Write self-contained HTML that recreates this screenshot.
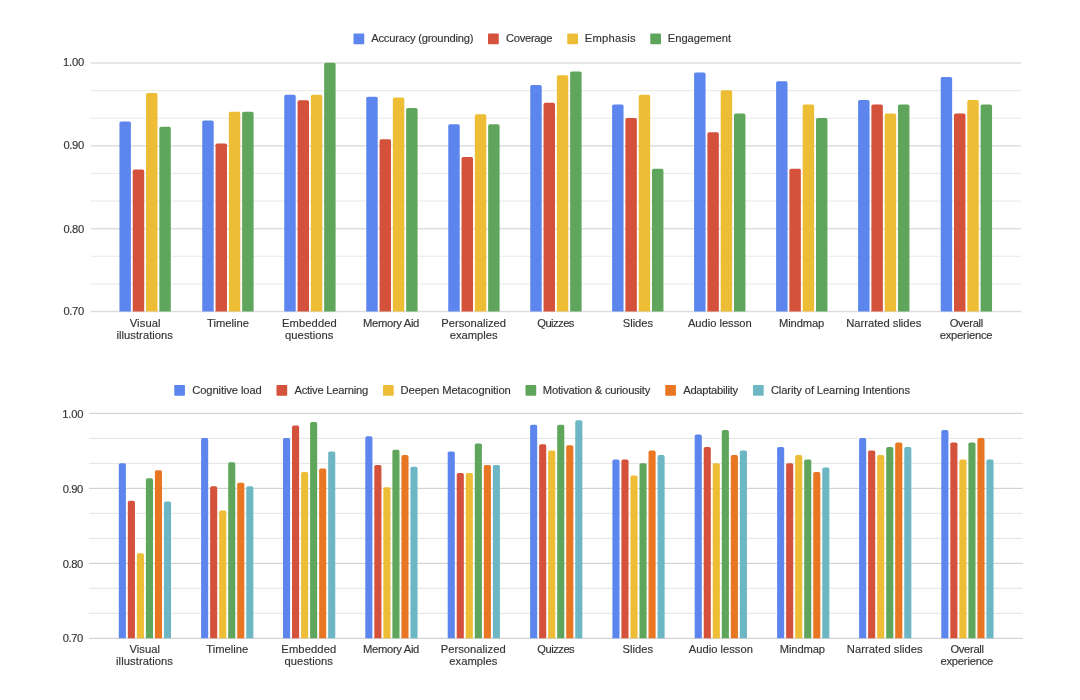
<!DOCTYPE html>
<html><head><meta charset="utf-8"><title>Charts</title>
<style>
html,body{margin:0;padding:0;background:#fff;}
svg{display:block;}
text{font-family:"Liberation Sans",sans-serif;font-size:11.2px;fill:#333;stroke:#333;stroke-width:0.15px;}
</style></head><body>
<svg width="1080" height="700" viewBox="0 0 1080 700">
<defs><filter id="soft" x="0" y="0" width="1080" height="700" filterUnits="userSpaceOnUse"><feGaussianBlur stdDeviation="0.5"/></filter></defs>
<rect width="1080" height="700" fill="#ffffff"/>
<g filter="url(#soft)">
<rect x="90.5" y="62.25" width="930.75" height="1.5" fill="#dedede"/>
<rect x="90.5" y="90.01" width="930.75" height="1.2" fill="#ececec"/>
<rect x="90.5" y="117.62" width="930.75" height="1.2" fill="#ececec"/>
<rect x="90.5" y="145.08" width="930.75" height="1.5" fill="#dedede"/>
<rect x="90.5" y="172.84" width="930.75" height="1.2" fill="#ececec"/>
<rect x="90.5" y="200.46" width="930.75" height="1.2" fill="#ececec"/>
<rect x="90.5" y="227.92" width="930.75" height="1.5" fill="#dedede"/>
<rect x="90.5" y="255.68" width="930.75" height="1.2" fill="#ececec"/>
<rect x="90.5" y="283.29" width="930.75" height="1.2" fill="#ececec"/>
<rect x="90.5" y="310.75" width="930.75" height="1.5" fill="#dedede"/>
<text x="63.02" y="66" textLength="21.25" lengthAdjust="spacing">1.00</text>
<text x="63.46" y="149" textLength="20.66" lengthAdjust="spacing">0.90</text>
<text x="63.46" y="233" textLength="20.66" lengthAdjust="spacing">0.80</text>
<text x="63.46" y="315" textLength="20.66" lengthAdjust="spacing">0.70</text>
<path d="M119.45 311.50V123.20Q119.45 121.50 121.15 121.50H129.20Q130.90 121.50 130.90 123.20V311.50Z" fill="#5b85ee"/>
<path d="M132.75 311.50V171.20Q132.75 169.50 134.45 169.50H142.50Q144.20 169.50 144.20 171.20V311.50Z" fill="#d4513b"/>
<path d="M146.05 311.50V94.70Q146.05 93.00 147.75 93.00H155.80Q157.50 93.00 157.50 94.70V311.50Z" fill="#edbe36"/>
<path d="M159.35 311.50V128.45Q159.35 126.75 161.05 126.75H169.10Q170.80 126.75 170.80 128.45V311.50Z" fill="#5fa65b"/>
<path d="M202.25 311.50V122.20Q202.25 120.50 203.95 120.50H212.00Q213.70 120.50 213.70 122.20V311.50Z" fill="#5b85ee"/>
<path d="M215.55 311.50V145.20Q215.55 143.50 217.25 143.50H225.30Q227.00 143.50 227.00 145.20V311.50Z" fill="#d4513b"/>
<path d="M228.85 311.50V113.45Q228.85 111.75 230.55 111.75H238.60Q240.30 111.75 240.30 113.45V311.50Z" fill="#edbe36"/>
<path d="M242.15 311.50V113.45Q242.15 111.75 243.85 111.75H251.90Q253.60 111.75 253.60 113.45V311.50Z" fill="#5fa65b"/>
<path d="M284.25 311.50V96.45Q284.25 94.75 285.95 94.75H294.00Q295.70 94.75 295.70 96.45V311.50Z" fill="#5b85ee"/>
<path d="M297.55 311.50V101.95Q297.55 100.25 299.25 100.25H307.30Q309.00 100.25 309.00 101.95V311.50Z" fill="#d4513b"/>
<path d="M310.85 311.50V96.45Q310.85 94.75 312.55 94.75H320.60Q322.30 94.75 322.30 96.45V311.50Z" fill="#edbe36"/>
<path d="M324.15 311.50V64.45Q324.15 62.75 325.85 62.75H333.90Q335.60 62.75 335.60 64.45V311.50Z" fill="#5fa65b"/>
<path d="M366.25 311.50V98.45Q366.25 96.75 367.95 96.75H376.00Q377.70 96.75 377.70 98.45V311.50Z" fill="#5b85ee"/>
<path d="M379.55 311.50V140.95Q379.55 139.25 381.25 139.25H389.30Q391.00 139.25 391.00 140.95V311.50Z" fill="#d4513b"/>
<path d="M392.85 311.50V99.20Q392.85 97.50 394.55 97.50H402.60Q404.30 97.50 404.30 99.20V311.50Z" fill="#edbe36"/>
<path d="M406.15 311.50V109.70Q406.15 108.00 407.85 108.00H415.90Q417.60 108.00 417.60 109.70V311.50Z" fill="#5fa65b"/>
<path d="M448.25 311.50V125.95Q448.25 124.25 449.95 124.25H458.00Q459.70 124.25 459.70 125.95V311.50Z" fill="#5b85ee"/>
<path d="M461.55 311.50V158.70Q461.55 157.00 463.25 157.00H471.30Q473.00 157.00 473.00 158.70V311.50Z" fill="#d4513b"/>
<path d="M474.85 311.50V115.95Q474.85 114.25 476.55 114.25H484.60Q486.30 114.25 486.30 115.95V311.50Z" fill="#edbe36"/>
<path d="M488.15 311.50V125.95Q488.15 124.25 489.85 124.25H497.90Q499.60 124.25 499.60 125.95V311.50Z" fill="#5fa65b"/>
<path d="M530.25 311.50V86.70Q530.25 85.00 531.95 85.00H540.00Q541.70 85.00 541.70 86.70V311.50Z" fill="#5b85ee"/>
<path d="M543.55 311.50V104.45Q543.55 102.75 545.25 102.75H553.30Q555.00 102.75 555.00 104.45V311.50Z" fill="#d4513b"/>
<path d="M556.85 311.50V76.95Q556.85 75.25 558.55 75.25H566.60Q568.30 75.25 568.30 76.95V311.50Z" fill="#edbe36"/>
<path d="M570.15 311.50V73.20Q570.15 71.50 571.85 71.50H579.90Q581.60 71.50 581.60 73.20V311.50Z" fill="#5fa65b"/>
<path d="M612.10 311.50V106.20Q612.10 104.50 613.80 104.50H621.85Q623.55 104.50 623.55 106.20V311.50Z" fill="#5b85ee"/>
<path d="M625.40 311.50V119.70Q625.40 118.00 627.10 118.00H635.15Q636.85 118.00 636.85 119.70V311.50Z" fill="#d4513b"/>
<path d="M638.70 311.50V96.45Q638.70 94.75 640.40 94.75H648.45Q650.15 94.75 650.15 96.45V311.50Z" fill="#edbe36"/>
<path d="M652.00 311.50V170.45Q652.00 168.75 653.70 168.75H661.75Q663.45 168.75 663.45 170.45V311.50Z" fill="#5fa65b"/>
<path d="M694.10 311.50V74.20Q694.10 72.50 695.80 72.50H703.85Q705.55 72.50 705.55 74.20V311.50Z" fill="#5b85ee"/>
<path d="M707.40 311.50V133.95Q707.40 132.25 709.10 132.25H717.15Q718.85 132.25 718.85 133.95V311.50Z" fill="#d4513b"/>
<path d="M720.70 311.50V91.95Q720.70 90.25 722.40 90.25H730.45Q732.15 90.25 732.15 91.95V311.50Z" fill="#edbe36"/>
<path d="M734.00 311.50V115.20Q734.00 113.50 735.70 113.50H743.75Q745.45 113.50 745.45 115.20V311.50Z" fill="#5fa65b"/>
<path d="M776.10 311.50V82.95Q776.10 81.25 777.80 81.25H785.85Q787.55 81.25 787.55 82.95V311.50Z" fill="#5b85ee"/>
<path d="M789.40 311.50V170.45Q789.40 168.75 791.10 168.75H799.15Q800.85 168.75 800.85 170.45V311.50Z" fill="#d4513b"/>
<path d="M802.70 311.50V106.20Q802.70 104.50 804.40 104.50H812.45Q814.15 104.50 814.15 106.20V311.50Z" fill="#edbe36"/>
<path d="M816.00 311.50V119.70Q816.00 118.00 817.70 118.00H825.75Q827.45 118.00 827.45 119.70V311.50Z" fill="#5fa65b"/>
<path d="M858.10 311.50V101.70Q858.10 100.00 859.80 100.00H867.85Q869.55 100.00 869.55 101.70V311.50Z" fill="#5b85ee"/>
<path d="M871.40 311.50V106.20Q871.40 104.50 873.10 104.50H881.15Q882.85 104.50 882.85 106.20V311.50Z" fill="#d4513b"/>
<path d="M884.70 311.50V115.20Q884.70 113.50 886.40 113.50H894.45Q896.15 113.50 896.15 115.20V311.50Z" fill="#edbe36"/>
<path d="M898.00 311.50V106.20Q898.00 104.50 899.70 104.50H907.75Q909.45 104.50 909.45 106.20V311.50Z" fill="#5fa65b"/>
<path d="M940.70 311.50V78.70Q940.70 77.00 942.40 77.00H950.45Q952.15 77.00 952.15 78.70V311.50Z" fill="#5b85ee"/>
<path d="M954.00 311.50V115.20Q954.00 113.50 955.70 113.50H963.75Q965.45 113.50 965.45 115.20V311.50Z" fill="#d4513b"/>
<path d="M967.30 311.50V101.70Q967.30 100.00 969.00 100.00H977.05Q978.75 100.00 978.75 101.70V311.50Z" fill="#edbe36"/>
<path d="M980.60 311.50V106.20Q980.60 104.50 982.30 104.50H990.35Q992.05 104.50 992.05 106.20V311.50Z" fill="#5fa65b"/>
<text x="129.70" y="327" textLength="30.90" lengthAdjust="spacing">Visual</text>
<text x="116.53" y="339" textLength="56.39" lengthAdjust="spacing">illustrations</text>
<text x="206.98" y="327" textLength="41.99" lengthAdjust="spacing">Timeline</text>
<text x="282.05" y="327" textLength="54.69" lengthAdjust="spacing">Embedded</text>
<text x="285.00" y="339" textLength="48.44" lengthAdjust="spacing">questions</text>
<text x="363.05" y="327" textLength="56.28" lengthAdjust="spacing">Memory Aid</text>
<text x="441.30" y="327" textLength="64.61" lengthAdjust="spacing">Personalized</text>
<text x="449.75" y="339" textLength="47.88" lengthAdjust="spacing">examples</text>
<text x="537.25" y="327" textLength="37.16" lengthAdjust="spacing">Quizzes</text>
<text x="622.75" y="327" textLength="30.36" lengthAdjust="spacing">Slides</text>
<text x="687.95" y="327" textLength="63.69" lengthAdjust="spacing">Audio lesson</text>
<text x="779.05" y="327" textLength="45.29" lengthAdjust="spacing">Mindmap</text>
<text x="846.30" y="327" textLength="75.06" lengthAdjust="spacing">Narrated slides</text>
<text x="949.75" y="327" textLength="33.46" lengthAdjust="spacing">Overall</text>
<text x="939.75" y="339" textLength="52.75" lengthAdjust="spacing">experience</text>
<rect x="353.5" y="33.5" width="10.75" height="10.75" rx="0.8" fill="#5b85ee"/>
<text x="371.20" y="42" textLength="102.23" lengthAdjust="spacing">Accuracy (grounding)</text>
<rect x="488" y="33.5" width="10.75" height="10.75" rx="0.8" fill="#d4513b"/>
<text x="505.89" y="42" textLength="46.57" lengthAdjust="spacing">Coverage</text>
<rect x="567.25" y="33.5" width="10.75" height="10.75" rx="0.8" fill="#edbe36"/>
<text x="584.80" y="42" textLength="50.78" lengthAdjust="spacing">Emphasis</text>
<rect x="650.25" y="33.5" width="10.75" height="10.75" rx="0.8" fill="#5fa65b"/>
<text x="667.80" y="42" textLength="63.19" lengthAdjust="spacing">Engagement</text>
<rect x="89.0" y="412.80" width="933.75" height="1.1" fill="#cfcfcf"/>
<rect x="89.0" y="437.85" width="933.75" height="1.0" fill="#e3e3e3"/>
<rect x="89.0" y="462.85" width="933.75" height="1.0" fill="#e3e3e3"/>
<rect x="89.0" y="487.80" width="933.75" height="1.1" fill="#cfcfcf"/>
<rect x="89.0" y="512.85" width="933.75" height="1.0" fill="#e3e3e3"/>
<rect x="89.0" y="537.85" width="933.75" height="1.0" fill="#e3e3e3"/>
<rect x="89.0" y="562.80" width="933.75" height="1.1" fill="#cfcfcf"/>
<rect x="89.0" y="587.85" width="933.75" height="1.0" fill="#e3e3e3"/>
<rect x="89.0" y="612.85" width="933.75" height="1.0" fill="#e3e3e3"/>
<rect x="89.0" y="637.80" width="933.75" height="1.1" fill="#cfcfcf"/>
<text x="62.22" y="418" textLength="21.25" lengthAdjust="spacing">1.00</text>
<text x="62.66" y="493" textLength="20.66" lengthAdjust="spacing">0.90</text>
<text x="62.66" y="568" textLength="20.66" lengthAdjust="spacing">0.80</text>
<text x="62.66" y="642" textLength="20.66" lengthAdjust="spacing">0.70</text>
<path d="M118.80 638.35V464.95Q118.80 463.25 120.50 463.25H124.20Q125.90 463.25 125.90 464.95V638.35Z" fill="#5b85ee"/>
<path d="M127.83 638.35V502.45Q127.83 500.75 129.53 500.75H133.23Q134.93 500.75 134.93 502.45V638.35Z" fill="#d4513b"/>
<path d="M136.86 638.35V554.95Q136.86 553.25 138.56 553.25H142.26Q143.96 553.25 143.96 554.95V638.35Z" fill="#edbe36"/>
<path d="M145.89 638.35V479.95Q145.89 478.25 147.59 478.25H151.29Q152.99 478.25 152.99 479.95V638.35Z" fill="#5fa65b"/>
<path d="M154.92 638.35V471.95Q154.92 470.25 156.62 470.25H160.32Q162.02 470.25 162.02 471.95V638.35Z" fill="#e87622"/>
<path d="M163.95 638.35V503.20Q163.95 501.50 165.65 501.50H169.35Q171.05 501.50 171.05 503.20V638.35Z" fill="#6db7c4"/>
<path d="M201.10 638.35V439.70Q201.10 438.00 202.80 438.00H206.50Q208.20 438.00 208.20 439.70V638.35Z" fill="#5b85ee"/>
<path d="M210.13 638.35V487.95Q210.13 486.25 211.83 486.25H215.53Q217.23 486.25 217.23 487.95V638.35Z" fill="#d4513b"/>
<path d="M219.16 638.35V512.20Q219.16 510.50 220.86 510.50H224.56Q226.26 510.50 226.26 512.20V638.35Z" fill="#edbe36"/>
<path d="M228.19 638.35V463.95Q228.19 462.25 229.89 462.25H233.59Q235.29 462.25 235.29 463.95V638.35Z" fill="#5fa65b"/>
<path d="M237.22 638.35V484.45Q237.22 482.75 238.92 482.75H242.62Q244.32 482.75 244.32 484.45V638.35Z" fill="#e87622"/>
<path d="M246.25 638.35V487.95Q246.25 486.25 247.95 486.25H251.65Q253.35 486.25 253.35 487.95V638.35Z" fill="#6db7c4"/>
<path d="M283.00 638.35V439.70Q283.00 438.00 284.70 438.00H288.40Q290.10 438.00 290.10 439.70V638.35Z" fill="#5b85ee"/>
<path d="M292.03 638.35V427.20Q292.03 425.50 293.73 425.50H297.43Q299.13 425.50 299.13 427.20V638.35Z" fill="#d4513b"/>
<path d="M301.06 638.35V473.70Q301.06 472.00 302.76 472.00H306.46Q308.16 472.00 308.16 473.70V638.35Z" fill="#edbe36"/>
<path d="M310.09 638.35V423.70Q310.09 422.00 311.79 422.00H315.49Q317.19 422.00 317.19 423.70V638.35Z" fill="#5fa65b"/>
<path d="M319.12 638.35V470.20Q319.12 468.50 320.82 468.50H324.52Q326.22 468.50 326.22 470.20V638.35Z" fill="#e87622"/>
<path d="M328.15 638.35V453.20Q328.15 451.50 329.85 451.50H333.55Q335.25 451.50 335.25 453.20V638.35Z" fill="#6db7c4"/>
<path d="M365.30 638.35V437.95Q365.30 436.25 367.00 436.25H370.70Q372.40 436.25 372.40 437.95V638.35Z" fill="#5b85ee"/>
<path d="M374.33 638.35V466.70Q374.33 465.00 376.03 465.00H379.73Q381.43 465.00 381.43 466.70V638.35Z" fill="#d4513b"/>
<path d="M383.36 638.35V488.95Q383.36 487.25 385.06 487.25H388.76Q390.46 487.25 390.46 488.95V638.35Z" fill="#edbe36"/>
<path d="M392.39 638.35V451.45Q392.39 449.75 394.09 449.75H397.79Q399.49 449.75 399.49 451.45V638.35Z" fill="#5fa65b"/>
<path d="M401.42 638.35V456.70Q401.42 455.00 403.12 455.00H406.82Q408.52 455.00 408.52 456.70V638.35Z" fill="#e87622"/>
<path d="M410.45 638.35V468.45Q410.45 466.75 412.15 466.75H415.85Q417.55 466.75 417.55 468.45V638.35Z" fill="#6db7c4"/>
<path d="M447.70 638.35V453.20Q447.70 451.50 449.40 451.50H453.10Q454.80 451.50 454.80 453.20V638.35Z" fill="#5b85ee"/>
<path d="M456.73 638.35V474.70Q456.73 473.00 458.43 473.00H462.13Q463.83 473.00 463.83 474.70V638.35Z" fill="#d4513b"/>
<path d="M465.76 638.35V474.70Q465.76 473.00 467.46 473.00H471.16Q472.86 473.00 472.86 474.70V638.35Z" fill="#edbe36"/>
<path d="M474.79 638.35V445.20Q474.79 443.50 476.49 443.50H480.19Q481.89 443.50 481.89 445.20V638.35Z" fill="#5fa65b"/>
<path d="M483.82 638.35V466.70Q483.82 465.00 485.52 465.00H489.22Q490.92 465.00 490.92 466.70V638.35Z" fill="#e87622"/>
<path d="M492.85 638.35V466.70Q492.85 465.00 494.55 465.00H498.25Q499.95 465.00 499.95 466.70V638.35Z" fill="#6db7c4"/>
<path d="M530.10 638.35V426.45Q530.10 424.75 531.80 424.75H535.50Q537.20 424.75 537.20 426.45V638.35Z" fill="#5b85ee"/>
<path d="M539.13 638.35V445.95Q539.13 444.25 540.83 444.25H544.53Q546.23 444.25 546.23 445.95V638.35Z" fill="#d4513b"/>
<path d="M548.16 638.35V452.20Q548.16 450.50 549.86 450.50H553.56Q555.26 450.50 555.26 452.20V638.35Z" fill="#edbe36"/>
<path d="M557.19 638.35V426.45Q557.19 424.75 558.89 424.75H562.59Q564.29 424.75 564.29 426.45V638.35Z" fill="#5fa65b"/>
<path d="M566.22 638.35V446.95Q566.22 445.25 567.92 445.25H571.62Q573.32 445.25 573.32 446.95V638.35Z" fill="#e87622"/>
<path d="M575.25 638.35V421.95Q575.25 420.25 576.95 420.25H580.65Q582.35 420.25 582.35 421.95V638.35Z" fill="#6db7c4"/>
<path d="M612.40 638.35V461.20Q612.40 459.50 614.10 459.50H617.80Q619.50 459.50 619.50 461.20V638.35Z" fill="#5b85ee"/>
<path d="M621.43 638.35V461.20Q621.43 459.50 623.13 459.50H626.83Q628.53 459.50 628.53 461.20V638.35Z" fill="#d4513b"/>
<path d="M630.46 638.35V477.20Q630.46 475.50 632.16 475.50H635.86Q637.56 475.50 637.56 477.20V638.35Z" fill="#edbe36"/>
<path d="M639.49 638.35V464.95Q639.49 463.25 641.19 463.25H644.89Q646.59 463.25 646.59 464.95V638.35Z" fill="#5fa65b"/>
<path d="M648.52 638.35V452.20Q648.52 450.50 650.22 450.50H653.92Q655.62 450.50 655.62 452.20V638.35Z" fill="#e87622"/>
<path d="M657.55 638.35V456.70Q657.55 455.00 659.25 455.00H662.95Q664.65 455.00 664.65 456.70V638.35Z" fill="#6db7c4"/>
<path d="M694.70 638.35V436.20Q694.70 434.50 696.40 434.50H700.10Q701.80 434.50 701.80 436.20V638.35Z" fill="#5b85ee"/>
<path d="M703.73 638.35V448.70Q703.73 447.00 705.43 447.00H709.13Q710.83 447.00 710.83 448.70V638.35Z" fill="#d4513b"/>
<path d="M712.76 638.35V464.95Q712.76 463.25 714.46 463.25H718.16Q719.86 463.25 719.86 464.95V638.35Z" fill="#edbe36"/>
<path d="M721.79 638.35V431.70Q721.79 430.00 723.49 430.00H727.19Q728.89 430.00 728.89 431.70V638.35Z" fill="#5fa65b"/>
<path d="M730.82 638.35V456.70Q730.82 455.00 732.52 455.00H736.22Q737.92 455.00 737.92 456.70V638.35Z" fill="#e87622"/>
<path d="M739.85 638.35V452.20Q739.85 450.50 741.55 450.50H745.25Q746.95 450.50 746.95 452.20V638.35Z" fill="#6db7c4"/>
<path d="M777.10 638.35V448.70Q777.10 447.00 778.80 447.00H782.50Q784.20 447.00 784.20 448.70V638.35Z" fill="#5b85ee"/>
<path d="M786.13 638.35V464.95Q786.13 463.25 787.83 463.25H791.53Q793.23 463.25 793.23 464.95V638.35Z" fill="#d4513b"/>
<path d="M795.16 638.35V456.70Q795.16 455.00 796.86 455.00H800.56Q802.26 455.00 802.26 456.70V638.35Z" fill="#edbe36"/>
<path d="M804.19 638.35V461.20Q804.19 459.50 805.89 459.50H809.59Q811.29 459.50 811.29 461.20V638.35Z" fill="#5fa65b"/>
<path d="M813.22 638.35V473.70Q813.22 472.00 814.92 472.00H818.62Q820.32 472.00 820.32 473.70V638.35Z" fill="#e87622"/>
<path d="M822.25 638.35V469.20Q822.25 467.50 823.95 467.50H827.65Q829.35 467.50 829.35 469.20V638.35Z" fill="#6db7c4"/>
<path d="M859.10 638.35V439.70Q859.10 438.00 860.80 438.00H864.50Q866.20 438.00 866.20 439.70V638.35Z" fill="#5b85ee"/>
<path d="M868.13 638.35V452.20Q868.13 450.50 869.83 450.50H873.53Q875.23 450.50 875.23 452.20V638.35Z" fill="#d4513b"/>
<path d="M877.16 638.35V456.70Q877.16 455.00 878.86 455.00H882.56Q884.26 455.00 884.26 456.70V638.35Z" fill="#edbe36"/>
<path d="M886.19 638.35V448.70Q886.19 447.00 887.89 447.00H891.59Q893.29 447.00 893.29 448.70V638.35Z" fill="#5fa65b"/>
<path d="M895.22 638.35V444.20Q895.22 442.50 896.92 442.50H900.62Q902.32 442.50 902.32 444.20V638.35Z" fill="#e87622"/>
<path d="M904.25 638.35V448.70Q904.25 447.00 905.95 447.00H909.65Q911.35 447.00 911.35 448.70V638.35Z" fill="#6db7c4"/>
<path d="M941.30 638.35V431.70Q941.30 430.00 943.00 430.00H946.70Q948.40 430.00 948.40 431.70V638.35Z" fill="#5b85ee"/>
<path d="M950.33 638.35V444.20Q950.33 442.50 952.03 442.50H955.73Q957.43 442.50 957.43 444.20V638.35Z" fill="#d4513b"/>
<path d="M959.36 638.35V461.20Q959.36 459.50 961.06 459.50H964.76Q966.46 459.50 966.46 461.20V638.35Z" fill="#edbe36"/>
<path d="M968.39 638.35V444.20Q968.39 442.50 970.09 442.50H973.79Q975.49 442.50 975.49 444.20V638.35Z" fill="#5fa65b"/>
<path d="M977.42 638.35V439.70Q977.42 438.00 979.12 438.00H982.82Q984.52 438.00 984.52 439.70V638.35Z" fill="#e87622"/>
<path d="M986.45 638.35V461.20Q986.45 459.50 988.15 459.50H991.85Q993.55 459.50 993.55 461.20V638.35Z" fill="#6db7c4"/>
<text x="129.45" y="653" textLength="30.60" lengthAdjust="spacing">Visual</text>
<text x="116.03" y="665" textLength="56.93" lengthAdjust="spacing">illustrations</text>
<text x="206.23" y="653" textLength="41.99" lengthAdjust="spacing">Timeline</text>
<text x="281.30" y="653" textLength="54.98" lengthAdjust="spacing">Embedded</text>
<text x="284.50" y="665" textLength="48.44" lengthAdjust="spacing">questions</text>
<text x="363.05" y="653" textLength="56.28" lengthAdjust="spacing">Memory Aid</text>
<text x="440.80" y="653" textLength="64.89" lengthAdjust="spacing">Personalized</text>
<text x="449.25" y="665" textLength="48.16" lengthAdjust="spacing">examples</text>
<text x="537.25" y="653" textLength="37.46" lengthAdjust="spacing">Quizzes</text>
<text x="622.50" y="653" textLength="30.66" lengthAdjust="spacing">Slides</text>
<text x="688.70" y="653" textLength="64.24" lengthAdjust="spacing">Audio lesson</text>
<text x="779.80" y="653" textLength="45.29" lengthAdjust="spacing">Mindmap</text>
<text x="846.80" y="653" textLength="75.87" lengthAdjust="spacing">Narrated slides</text>
<text x="950.50" y="653" textLength="33.46" lengthAdjust="spacing">Overall</text>
<text x="940.50" y="665" textLength="52.75" lengthAdjust="spacing">experience</text>
<rect x="174.25" y="385" width="10.7" height="10.7" rx="0.8" fill="#5b85ee"/>
<text x="192.14" y="394.25" textLength="69.70" lengthAdjust="spacing">Cognitive load</text>
<rect x="276.5" y="385" width="10.7" height="10.7" rx="0.8" fill="#d4513b"/>
<text x="294.45" y="394.25" textLength="73.75" lengthAdjust="spacing">Active Learning</text>
<rect x="383" y="385" width="10.7" height="10.7" rx="0.8" fill="#edbe36"/>
<text x="400.55" y="394.25" textLength="110.29" lengthAdjust="spacing">Deepen Metacognition</text>
<rect x="525.5" y="385" width="10.7" height="10.7" rx="0.8" fill="#5fa65b"/>
<text x="542.80" y="394.25" textLength="107.55" lengthAdjust="spacing">Motivation &amp; curiousity</text>
<rect x="665.25" y="385" width="10.7" height="10.7" rx="0.8" fill="#e87622"/>
<text x="683.20" y="394.25" textLength="54.85" lengthAdjust="spacing">Adaptability</text>
<rect x="753" y="385" width="10.7" height="10.7" rx="0.8" fill="#6db7c4"/>
<text x="770.89" y="394.25" textLength="139.13" lengthAdjust="spacing">Clarity of Learning Intentions</text>
</g>
</svg>
</body></html>
